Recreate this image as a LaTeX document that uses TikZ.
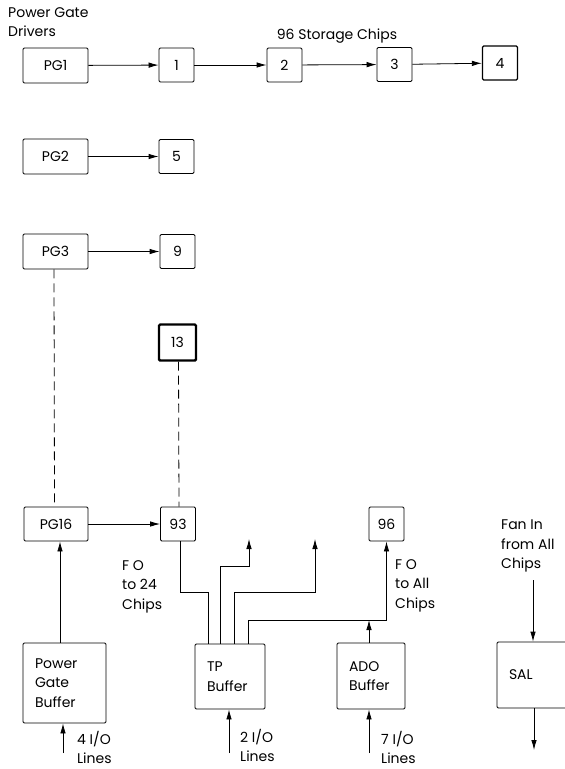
\documentclass[tikz,border=0pt]{standalone}
\usepackage{fontspec}
\setmainfont{Poppins}
\usetikzlibrary{arrows.meta}
\tikzset{
  box/.style={draw, line width=0.8pt, rounded corners=1.2pt, inner sep=0pt},
  drv/.style={box, minimum width=65pt, minimum height=35pt},
  chip/.style={box, minimum width=35pt, minimum height=34pt},
  buf/.style={box, align=left, inner xsep=12pt},
  txt/.style={align=left, inner sep=0pt, anchor=north west},
  sig/.style={line width=0.8pt, -{Latex[length=10pt,width=5.5pt]}},
  wire/.style={line width=0.8pt},
}
\begin{document}
\begin{tikzpicture}[x=1pt, y=-1pt, font=\fontsize{14}{19.5}\selectfont]
\useasboundingbox (0,0) rectangle (565,769);

\node[txt] (drvlbl) at (8,7) {Power Gate\\Drivers};
\node[anchor=base] (storlbl) at (337,39) {96 Storage Chips};

\node[drv] (pg1) at (55.5,65.5) {PG1};
\node[chip] (c1) at (176.5,65) {1};
\node[chip] (c2) at (284.5,65) {2};
\node[chip] (c3) at (394.5,64.5) {3};
\node[chip, line width=1.3pt] (c4) at (500,63) {4};
\draw[sig] (pg1) -- (c1);
\draw[sig] (c1) -- (c2);
\draw[sig] (c2) -- (c3);
\draw[sig] (c3) -- (c4);

\node[drv] (pg2) at (55.5,156.5) {PG2};
\node[chip] (c5) at (176.5,156.5) {5};
\draw[sig] (pg2) -- (c5);

\node[drv] (pg3) at (55.5,251.5) {PG3};
\node[chip] (c9) at (177.5,251.5) {9};
\draw[sig] (pg3) -- (c9);

\node[chip, line width=2.4pt, minimum width=37pt, minimum height=36pt] (c13) at (177.5,342.5) {13};

\node[drv, minimum width=64pt, minimum height=34pt] (pg16) at (56,524) {PG16};
\node[chip] (c93) at (178,524) {93};
\node[chip] (c96) at (386.5,524) {96};
\draw[sig] (pg16) -- (c93);
\draw[wire, dashed, dash pattern=on 9pt off 5pt] ([xshift=-1.5pt]pg3.south) -- ([xshift=-1.5pt]pg16.north);
\draw[wire, dashed, dash pattern=on 9pt off 5pt] ([xshift=1pt]c13.south) -- ([xshift=1pt]c93.north);

% buffers
\node[buf, text width=59pt, minimum height=80pt] (pgb) at (64.5,683) {Power\\Gate\\Buffer};
\node[buf, text width=46pt, minimum height=65pt] (tp) at (230,676.5) {TP\\Buffer};
\node[buf, text width=44pt, minimum height=66pt] (ado) at (371,676) {ADO\\Buffer};
\node[buf, text width=47pt, minimum height=66pt] (sal) at (532.5,675) {SAL};

\draw[sig] ([xshift=-4.5pt]pgb.north) -- ([xshift=-4.5pt]pgb.north |- pg16.south);

% inputs
\coordinate (in4) at (63,753);
\coordinate (in2) at (229,753);
\coordinate (in7) at (369,753);
\draw[sig] (in4) -- (in4 |- pgb.south);
\draw[sig] (in2) -- (in2 |- tp.south);
\draw[sig] (in7) -- (in7 |- ado.south);
\node[txt] (l4) at (77,731) {4 I/O\\Lines};
\node[txt] (l2) at (240,729) {2 I/O\\Lines};
\node[txt] (l7) at (381,731) {7 I/O\\Lines};

% TP fan out
\coordinate (k1) at (249,566);
\coordinate (o1) at (249,539);
\coordinate (k2) at (315,592);
\coordinate (o2) at (315,539);
\coordinate (k3) at (386.5,620);
\draw[wire] ([xshift=-22pt]tp.north) |- (180,592) -- ([xshift=2pt]c93.south);
\draw[sig] ([xshift=-10pt]tp.north) |- (k1) -- (o1);
\draw[sig] ([xshift=4pt]tp.north) |- (k2) -- (o2);
\draw[sig] ([xshift=18pt]tp.north) |- (k3) -- (c96.south);
\draw[sig] ([xshift=-2pt]ado.north) -- ([xshift=-2pt]ado.north |- k3);

\node[txt] (fo24) at (122,560) {F O\\to 24\\Chips};
\node[txt] (foall) at (395,559) {F O\\to All\\Chips};

% sense amp
\node[txt] (faninlbl) at (501,520) {Fan In\\from All\\Chips};
\coordinate (fin) at (533,580);
\coordinate (fout) at (534,750);
\draw[sig] (fin) -- (fin |- sal.north);
\draw[sig] (sal.south -| fout) -- (fout);
\end{tikzpicture}
\end{document}
